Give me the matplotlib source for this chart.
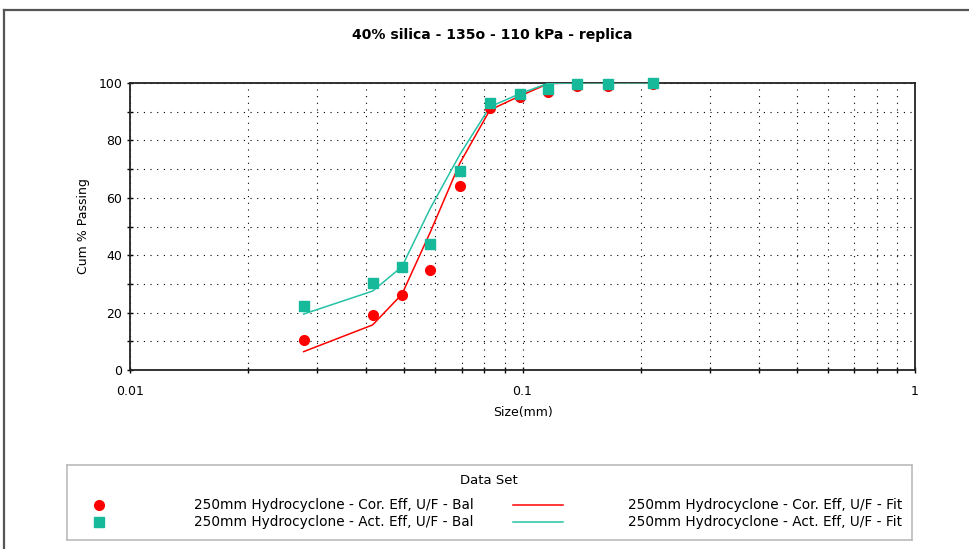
import numpy as np
import matplotlib
matplotlib.use("Agg")
import matplotlib.pyplot as plt
from matplotlib.lines import Line2D
from matplotlib.ticker import LogLocator, MultipleLocator, FixedFormatter, FixedLocator

plt.rcParams.update({
    'font.family': 'DejaVu Sans',
    'font.size': 9,
})

# Particle size (mm) of each screen fraction
size_mm = [0.0277, 0.0415, 0.0493, 0.0582, 0.0692, 0.0826, 0.0986, 0.1164, 0.138, 0.1655, 0.2154]

# Cumulative % passing, measured (balanced) data
cor_eff_bal = [10.4, 19.2, 26.0, 35.0, 64.2, 91.3, 95.2, 97.0, 98.9, 98.9, 99.6]
act_eff_bal = [22.4, 30.4, 36.0, 44.0, 69.5, 92.9, 96.0, 97.8, 99.5, 99.5, 99.9]

# Cumulative % passing, model fit
cor_eff_fit = [6.4, 15.7, 26.4, 48.0, 72.0, 90.6, 95.5, 99.8, 100.0, 100.0, 100.0]
act_eff_fit = [19.5, 27.5, 36.0, 56.3, 75.0, 91.7, 96.3, 99.9, 100.0, 100.0, 100.0]

labels = [
    "250mm Hydrocyclone - Cor. Eff, U/F - Bal",
    "250mm Hydrocyclone - Act. Eff, U/F - Bal",
    "250mm Hydrocyclone - Cor. Eff, U/F - Fit",
    "250mm Hydrocyclone - Act. Eff, U/F - Fit",
]

RED = '#ff0000'
TEAL = '#17b99b'
TEAL_LINE = '#26c2a6'

W, H = 969, 549
fig = plt.figure(figsize=(W / 100, H / 100), dpi=100)

# window frame along the top and left edges
fig.add_artist(Line2D([4 / W, 4 / W], [0, 1 - 10 / H], color='#555555', lw=1.6))
fig.add_artist(Line2D([4 / W, 1], [1 - 10 / H, 1 - 10 / H], color='#555555', lw=1.6))

ax = fig.add_axes([130 / W, 1 - 370 / H, 785 / W, 287 / H])
ax.set_xscale('log')
ax.set_xlim(0.01, 1)
ax.set_ylim(0, 100)

ax.plot(size_mm, cor_eff_fit, color=RED, lw=1.1, zorder=3)
ax.plot(size_mm, act_eff_fit, color=TEAL_LINE, lw=1.1, zorder=3)
ax.plot(size_mm, cor_eff_bal, 'o', color=RED, ms=7, mec=RED, zorder=4, clip_on=False)
ax.plot(size_mm, act_eff_bal, 's', color=TEAL, ms=7, mec=TEAL, zorder=5, clip_on=False)

ax.xaxis.set_major_locator(FixedLocator([0.01, 0.1, 1]))
ax.xaxis.set_major_formatter(FixedFormatter(['0.01', '0.1', '1']))
ax.xaxis.set_minor_locator(LogLocator(base=10, subs=np.arange(2, 10)))
ax.xaxis.set_minor_formatter(plt.NullFormatter())
ax.yaxis.set_major_locator(MultipleLocator(20))
ax.yaxis.set_minor_locator(MultipleLocator(10))

ax.tick_params(which='both', direction='inout', length=5, width=1, colors='black',
               labelsize=9, pad=3)
ax.tick_params(axis='x', which='major', pad=8)

dots = (0, (1, 5))
ax.grid(True, which='both', color='black', lw=0.8, linestyle=dots, zorder=1)

for sp in ax.spines.values():
    sp.set_linewidth(1.3)
    sp.set_color('#222222')

ax.set_xlabel('Size(mm)', fontsize=9, labelpad=6)
ax.set_ylabel('Cum % Passing', fontsize=9, labelpad=6)

fig.text(492 / W, 1 - 35 / H, '40% silica - 135o - 110 kPa - replica',
         ha='center', va='center', fontsize=10.1, fontweight='bold')

# legend panel
lax = fig.add_axes([67 / W, 1 - 540 / H, 845 / W, 75 / H])
lax.set_xlim(0, 845)
lax.set_ylim(75, 0)
lax.set_xticks([])
lax.set_yticks([])
for sp in lax.spines.values():
    sp.set_color('#bbbbbb')
    sp.set_linewidth(1.2)

lax.text(422, 16, 'Data Set', ha='center', va='center', fontsize=9.5)
lax.plot([32], [40], 'o', color=RED, ms=7)
lax.plot([32], [57], 's', color=TEAL, ms=6.5)
lax.text(127, 40, labels[0], va='center', fontsize=9.8)
lax.text(127, 57, labels[1], va='center', fontsize=9.8)
lax.plot([446, 496], [40, 40], color=RED, lw=1.1)
lax.plot([446, 496], [57, 57], color=TEAL_LINE, lw=1.1)
lax.text(561, 40, labels[2], va='center', fontsize=9.8)
lax.text(561, 57, labels[3], va='center', fontsize=9.8)

fig.savefig('out.png', dpi=100)
